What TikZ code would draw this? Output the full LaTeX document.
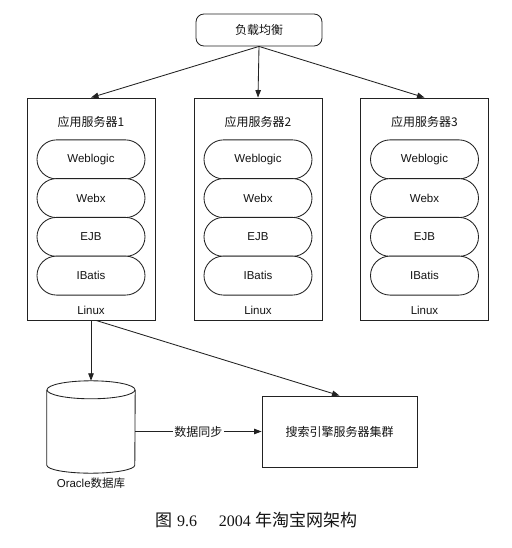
\documentclass[tikz,border=0pt]{standalone}
\usepackage{fontspec}
\setmainfont{Liberation Sans}
\newfontfamily\cjk{Noto Sans CJK SC}
\newfontfamily\capserif{Liberation Serif}
\usetikzlibrary{arrows.meta,positioning,calc,shapes.misc}
\definecolor{cLine}{HTML}{222222}
\definecolor{cText}{HTML}{141414}
\tikzset{
  box/.style  ={draw=cLine,line width=0.85pt,fill=white,inner sep=0pt,text=cText},
  srv/.style  ={box,minimum width=128pt,minimum height=222pt},
  pill/.style ={box,rounded rectangle,minimum width=108pt,minimum height=39pt},
  ttl/.style  ={font=\cjk\fontsize{12}{14}\selectfont,text=cText},
  lbl/.style  ={font=\fontsize{11.5}{13}\selectfont,text=cText},
  sig/.style  ={-{Triangle[length=7.5pt,width=5.5pt]},draw=cLine,line width=0.85pt},
  tag/.style  ={ttl,fill=white,inner sep=1.5pt},
}

\begin{document}
\begin{tikzpicture}[x=1pt, y=1pt, font=\fontsize{11.5}{13}\selectfont]
\useasboundingbox (0,0) rectangle (511,548);
\fill[white] (0,0) rectangle (511,548);

% ===== load balancer =======================================================
\node[box,rounded corners=8pt,minimum width=126pt,minimum height=32pt,ttl] (lb)
  at (259,518) {负载均衡};

% ===== application server 1 ================================================
\node[srv] (srv1) at (91,339) {};
\node[ttl] (t1) at (91,426) {应用服务器1};
\node[pill] (wl1)  at (91,388.6) {Weblogic};
\node[pill] (wx1)  at (91,349.9) {Webx};
\node[pill] (ejb1) at (91,311.1) {EJB};
\node[pill] (ib1)  at (91,272.4) {IBatis};
\node[lbl] (os1) at (91,238) {Linux};

% ===== application server 2 ================================================
\node[srv] (srv2) at (258,339) {};
\node[ttl] (t2) at (258,426) {应用服务器2};
\node[pill] (wl2)  at (258,388.6) {Weblogic};
\node[pill] (wx2)  at (258,349.9) {Webx};
\node[pill] (ejb2) at (258,311.1) {EJB};
\node[pill] (ib2)  at (258,272.4) {IBatis};
\node[lbl] (os2) at (258,238) {Linux};

% ===== application server 3 ================================================
\node[srv] (srv3) at (424.5,339) {};
\node[ttl] (t3) at (424.5,426) {应用服务器3};
\node[pill] (wl3)  at (424.5,388.6) {Weblogic};
\node[pill] (wx3)  at (424.5,349.9) {Webx};
\node[pill] (ejb3) at (424.5,311.1) {EJB};
\node[pill] (ib3)  at (424.5,272.4) {IBatis};
\node[lbl] (os3) at (424.5,238) {Linux};

\draw[sig] (lb.south) -- (srv1.north);
\draw[sig] (lb.south) -- (srv2.north);
\draw[sig] (lb.south) -- (srv3.north);

% ===== database and search cluster =========================================
% db only holds the size; the cylinder itself is drawn on its anchors
\node[minimum width=88pt,minimum height=92pt,inner sep=0pt] (db) at (91,121) {};
\draw[cLine,line width=0.85pt,fill=white]
  ($(db.north west)+(0,-9)$) -- ($(db.south west)+(0,8)$)
  arc[start angle=180,end angle=360,x radius=44,y radius=8]
  -- ($(db.north east)+(0,-9)$);
\draw[cLine,line width=0.85pt,fill=white] ($(db.north)+(0,-9)$)
  ellipse[x radius=44,y radius=9];
\node[lbl,below=1pt of db] (dbl) {Oracle{\cjk 数据库}};

\node[box,minimum width=155pt,minimum height=71pt,ttl] (srch) at (339.5,116.5)
  {搜索引擎服务器集群};

\draw[sig] (srv1.south) -- (db.north);
\draw[sig] ($(srv1.south)+(5,0)$) -- (srch.north);
\draw[sig] (db.east |- srch.west) -- node[tag] {数据同步} (srch.west);

% ===== caption ==============================================================
\node[font=\fontsize{16}{18}\selectfont,text=cText] (cap) at (256,28)
  {{\cjk\fontsize{17}{18}\selectfont 图}\hspace{5pt}{\capserif 9.6}\hspace{22pt}%
   {\capserif 2004}\hspace{4pt}{\cjk\fontsize{17}{18}\selectfont 年淘宝网架构}};
\end{tikzpicture}
\end{document}
